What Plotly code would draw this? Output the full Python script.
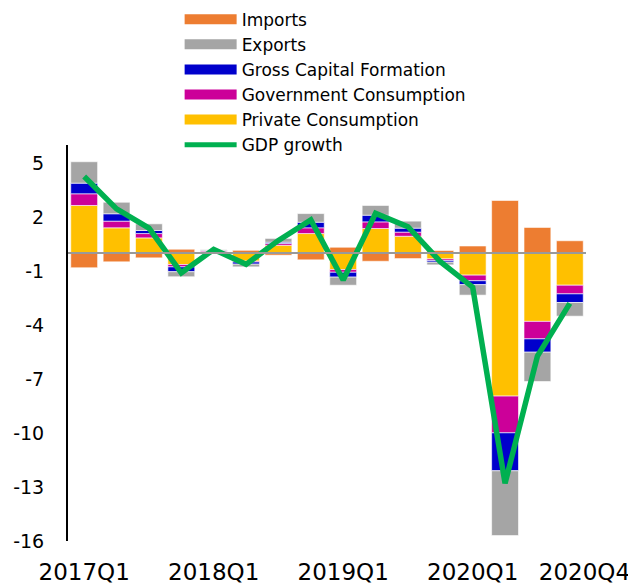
import plotly.graph_objects as go

quarters = ["2017Q1", "2017Q2", "2017Q3", "2017Q4",
            "2018Q1", "2018Q2", "2018Q3", "2018Q4",
            "2019Q1", "2019Q2", "2019Q3", "2019Q4",
            "2020Q1", "2020Q2", "2020Q3", "2020Q4"]

private_consumption = [2.64, 1.40, 0.84, -0.64, 0.05, -0.45, 0.43, 1.08,
                       -0.92, 1.36, 0.93, -0.33, -1.23, -7.95, -3.80, -1.79]
government_consumption = [0.65, 0.37, 0.24, -0.13, 0.06, -0.05, 0.10, 0.32,
                          -0.15, 0.37, 0.23, -0.09, -0.31, -2.04, -0.97, -0.48]
gross_capital_formation = [0.59, 0.41, 0.17, -0.27, 0.02, -0.12, 0.07, 0.31,
                           -0.27, 0.37, 0.22, -0.09, -0.22, -2.11, -0.74, -0.48]
exports = [1.19, 0.64, 0.37, -0.28, 0.05, -0.15, 0.21, 0.48,
           -0.45, 0.54, 0.39, -0.15, -0.58, -3.60, -1.63, -0.76]
imports = [-0.82, -0.49, -0.27, 0.21, -0.04, 0.15, -0.12, -0.38,
           0.32, -0.46, -0.31, 0.14, 0.39, 2.92, 1.42, 0.68]
gdp_growth = [4.25, 2.45, 1.38, -1.10, 0.20, -0.63, 0.70, 1.84,
              -1.50, 2.20, 1.46, -0.48, -1.90, -12.80, -5.72, -2.80]

tick_quarters = ["2017Q1", "2018Q1", "2019Q1", "2020Q1", "2020Q4"]
tick_labels = ["2017Q1", "2018Q1", "2019Q1", "2020Q1", "\u00a0\u00a0\u00a0\u00a02020Q4"]
y_ticks = [5, 2, -1, -4, -7, -10, -13, -16]
y_tick_labels = ["5", "2", "-1", "-4", "-7", "-10", "-13", "-16"]

C_IMP = "#ED7D31"
C_EXP = "#A5A5A5"
C_GCF = "#0000CC"
C_GOV = "#CC0099"
C_PRI = "#FFC000"
C_GDP = "#00B050"

FONT = "DejaVu Sans"

fig = go.Figure()

series = [
    ("Private Consumption", private_consumption, C_PRI),
    ("Government Consumption", government_consumption, C_GOV),
    ("Gross Capital Formation", gross_capital_formation, C_GCF),
    ("Exports", exports, C_EXP),
    ("Imports", imports, C_IMP),
]
for name, vals, col in series:
    fig.add_trace(go.Bar(
        x=quarters, y=vals, name=name, showlegend=False,
        marker=dict(color=col, line=dict(color="rgba(255,255,255,0.6)", width=1)),
    ))

fig.add_trace(go.Scatter(
    x=quarters, y=gdp_growth, name="GDP growth", mode="lines",
    line=dict(color=C_GDP, width=5.5), showlegend=False,
))

# legend entries (wide rectangular swatches)
legend_items = [
    ("Imports", C_IMP, 10),
    ("Exports", C_EXP, 10),
    ("Gross Capital Formation", C_GCF, 10),
    ("Government Consumption", C_GOV, 10),
    ("Private Consumption", C_PRI, 10),
    ("GDP growth", C_GDP, 5),
]
for rank, (name, col, w) in enumerate(legend_items):
    fig.add_trace(go.Scatter(
        x=[None], y=[None], name=name, mode="lines",
        line=dict(color=col, width=w), legendrank=rank + 1,
        hoverinfo="skip",
    ))

fig.add_shape(type="line", xref="paper", yref="y", x0=0, x1=1, y0=0, y1=0,
              line=dict(color="#999999", width=2), layer="above")

fig.update_layout(
    width=628, height=578,
    margin=dict(l=60, r=50, t=137, b=45, autoexpand=False),
    paper_bgcolor="white", plot_bgcolor="white",
    barmode="relative", bargap=0.17,
    font=dict(family=FONT, color="black"),
    legend=dict(
        x=0.2155, y=1.362, xanchor="left", yanchor="top",
        font=dict(size=17, family=FONT, color="black"),
        itemwidth=52, tracegroupgap=0, bgcolor="rgba(0,0,0,0)",
    ),
    xaxis=dict(
        type="category", categoryorder="array", categoryarray=quarters,
        tickmode="array", tickvals=tick_quarters, ticktext=tick_labels,
        showgrid=False, zeroline=False, showline=False, ticks="",
        tickangle=0, automargin=False,
        tickfont=dict(size=23, family=FONT, color="black"),
        ticklabelstandoff=15,
    ),
    yaxis=dict(
        range=[-16, 6], tickmode="array", tickvals=y_ticks, ticktext=y_tick_labels,
        showgrid=False, zeroline=False, showline=True,
        linecolor="black", linewidth=2, ticks="", automargin=False,
        tickfont=dict(size=19, family=FONT, color="black"),
        ticklabelstandoff=18,
    ),
)

fig.write_html("out.html")
